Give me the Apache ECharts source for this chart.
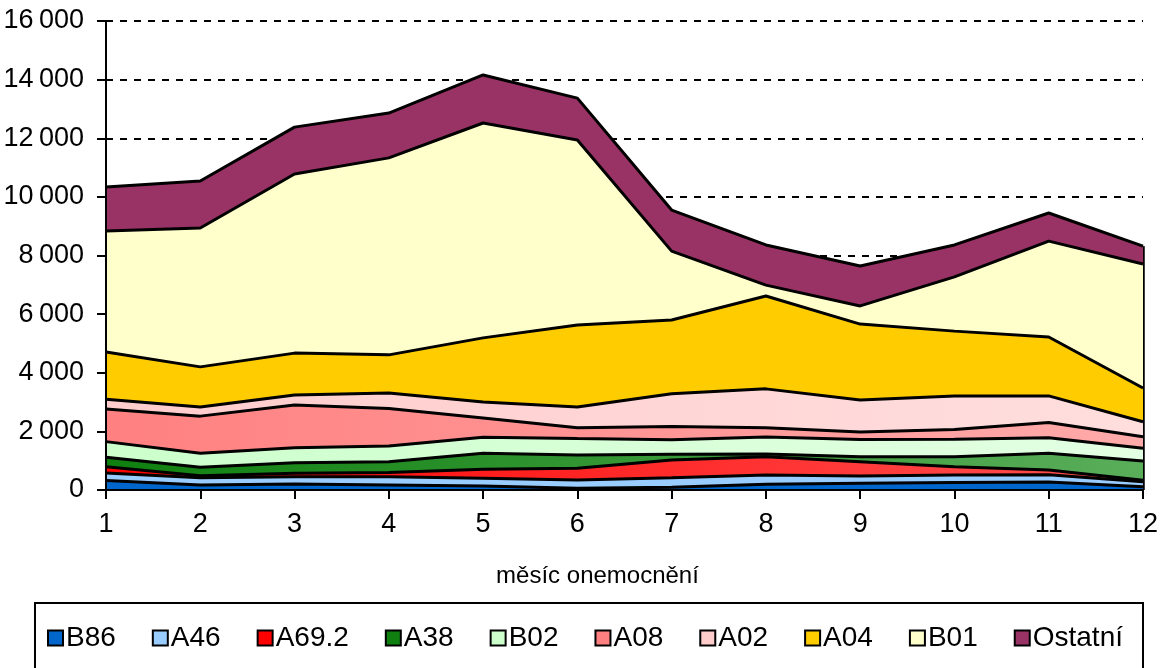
<!DOCTYPE html>
<html>
<head>
<meta charset="utf-8">
<script src="https://cdn.jsdelivr.net/npm/echarts@6/dist/echarts.min.js"></script>
<style>
html,body{margin:0;padding:0;background:#fff;}
#chart{width:1165px;height:668px;}
</style>
</head>
<body>
<div id="chart"></div>
<script>
var months = ['1','2','3','4','5','6','7','8','9','10','11','12'];
var B86   = [320,170,205,170,140,60,90,195,230,260,270,110];
var A46   = [260,250,250,285,260,280,330,315,250,250,250,170];
var A692  = [210,70,115,145,305,400,600,625,485,285,160,50];
var A38   = [330,285,360,365,545,455,200,95,170,340,570,660];
var B02   = [530,480,515,535,550,560,495,575,585,595,535,435];
var A08   = [1110,1265,1455,1280,660,365,450,315,260,335,515,395];
var A02   = [340,310,340,530,540,710,1115,1330,1090,1145,910,510];
var A04   = [1610,1370,1430,1300,2190,2800,2520,3170,2590,2210,2010,1150];
var B01   = [4130,4740,6110,6720,7330,6310,2350,370,620,1850,3270,4230];
var Ostatni = [1500,1600,1600,1530,1640,1430,1400,1370,1360,1090,960,610];
var yTicks = [0,2000,4000,6000,8000,10000,12000,14000,16000];

var seriesDefs = [
  {name:'B86', data:B86, c1:'#0066cc', c2:'#0066cc'},
  {name:'A46', data:A46, c1:'#99ccff', c2:'#99ccff'},
  {name:'A69.2', data:A692, c1:'#ff0000', c2:'#ff5050'},
  {name:'A38', data:A38, c1:'#0f800f', c2:'#5aae5a'},
  {name:'B02', data:B02, c1:'#ccffcc', c2:'#e3ffe3'},
  {name:'A08', data:A08, c1:'#ff8080', c2:'#ffaaaa'},
  {name:'A02', data:A02, c1:'#ffcccc', c2:'#ffdede'},
  {name:'A04', data:A04, c1:'#ffcc00', c2:'#ffcc00'},
  {name:'B01', data:B01, c1:'#ffffcc', c2:'#ffffcc'},
  {name:'Ostatní', data:Ostatni, c1:'#993366', c2:'#993366'}
];

var lastIdx = months.length - 1;
var totalLast = seriesDefs.reduce(function(s,d){return s + d.data[lastIdx];}, 0);

var series = seriesDefs.map(function(d, i){
  var s = {
    name: d.name,
    type: 'line',
    stack: 'total',
    data: d.data,
    symbol: 'none',
    showSymbol: false,
    smooth: false,
    z: 20 - i,
    color: d.c1,
    itemStyle: {color: d.c1},
    lineStyle: {color: '#000', width: 3},
    areaStyle: {
      opacity: 1,
      color: new echarts.graphic.LinearGradient(0,0,1,0,[{offset:0,color:d.c1},{offset:1,color:d.c2}])
    },
    emphasis: {disabled: true}
  };
  if (i === 0) {
    s.markLine = {
      silent: true, symbol: ['none','none'], label: {show:false},
      lineStyle: {color:'#000', width:2.5, type:'solid'},
      data: [[{coord:[months[lastIdx], 0]}, {coord:[months[lastIdx], totalLast]}]]
    };
  }
  return s;
});

function fmt(v){
  var s = String(v);
  if (s.length > 3) s = s.slice(0, s.length-3) + '\u2009' + s.slice(s.length-3);
  return s;
}

var FONT = "'Liberation Sans', Arial, sans-serif";
var chart = echarts.init(document.getElementById('chart'), null, {renderer:'canvas'});
chart.setOption({
  animation: false,
  backgroundColor: '#fff',
  textStyle: {fontFamily: FONT, color:'#000'},
  grid: {left:106, right:22, top:21, bottom:178, containLabel:false},
  xAxis: {
    type: 'category',
    data: months,
    boundaryGap: false,
    axisLine: {lineStyle:{color:'#000', width:2}},
    axisTick: {show:true, length:9, lineStyle:{color:'#000', width:2}},
    axisLabel: {fontSize:27, color:'#000', margin:21, fontFamily:FONT},
    name: 'měsíc onemocnění',
    nameLocation: 'middle',
    nameGap: 74,
    nameTextStyle: {fontSize:24, color:'#000', fontFamily:FONT, padding:[0,54,0,0]},
    splitLine: {show:false},
    z: 30
  },
  yAxis: [{
    type: 'value',
    min: yTicks[0],
    max: yTicks[yTicks.length-1],
    interval: 2000,
    axisLine: {show:false},
    axisTick: {show:false},
    axisLabel: {show:false},
    splitLine: {show:true, lineStyle:{color:'#000', width:2, type:[7,7]}},
    z: 0
  }, {
    type: 'value',
    position: 'left',
    min: yTicks[0],
    max: yTicks[yTicks.length-1],
    interval: 2000,
    axisLine: {show:true, lineStyle:{color:'#000', width:2}},
    axisTick: {show:true, length:9, lineStyle:{color:'#000', width:2}},
    axisLabel: {fontSize:27, color:'#000', margin:22, formatter: fmt,
      fontFamily:"'Liberation Sans Narrow', 'Liberation Sans', Arial, sans-serif"},
    splitLine: {show:false},
    z: 30
  }],
  legend: {
    data: seriesDefs.map(function(d){return d.name;}),
    left: 42,
    top: 619,
    icon: 'rect',
    itemWidth: 15,
    itemHeight: 15,
    itemGap: 36,
    textStyle: {fontSize:28, color:'#000', padding:[0,0,0,-2], fontFamily:FONT},
    itemStyle: {borderColor:'#000', borderWidth:2},
    selectedMode: false
  },
  graphic: [{
    type: 'rect',
    shape: {x:35, y:603, width:1108, height:80},
    style: {fill:'none', stroke:'#000', lineWidth:2},
    silent: true
  }],
  series: series
});
</script>
</body>
</html>
